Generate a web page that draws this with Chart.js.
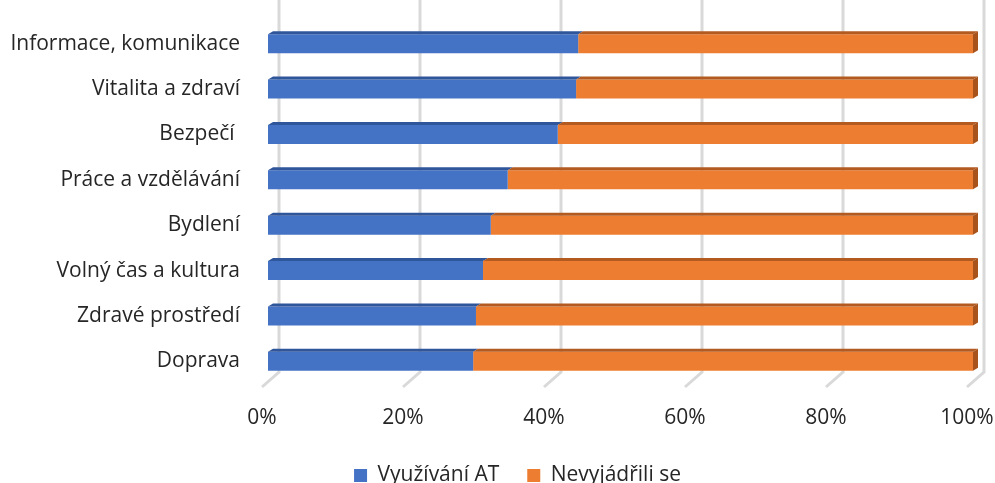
<!DOCTYPE html>
<html>
<head>
<meta charset="utf-8">
<script src="https://cdn.jsdelivr.net/npm/chart.js@4.4.0/dist/chart.umd.min.js"></script>
<style>
  html, body { margin: 0; padding: 0; background: #fff; }
  #wrap { width: 995px; height: 483px; }
</style>
</head>
<body>
<div id="wrap"><canvas id="graf" width="995" height="483"></canvas></div>
<script>
// Data
const kategorie = ['Informace, komunikace', 'Vitalita a zdraví', 'Bezpečí ', 'Práce a vzdělávání',
  'Bydlení', 'Volný čas a kultura', 'Zdravé prostředí', 'Doprava'];
const vyuzivaniAT = [44.0, 43.7, 41.1, 34.0, 31.6, 30.5, 29.5, 29.1];
const nevyjadrili = [56.0, 56.3, 58.9, 66.0, 68.4, 69.5, 70.5, 70.9];
const nazvySerii = ['Využívání AT', 'Nevyjádřili se'];

const modra = '#4472C4', oranzova = '#ED7D31';
const modraTop = '#2F559A', oranzovaTop = '#B25A1F', oranzovaBok = '#A9531C';
const pismo = '"Open Sans", "Noto Sans", sans-serif';
const barvaTextu = '#262626';

// 3D efekt: mrizka vzadu, horni plocha a bok sloupcu
const efekt3d = {
  id: 'efekt3d',
  afterLayout(chart) {
    // legenda je v originale posunuta doprava
    chart.legend.left += 31;
    chart.legend.right += 31;
  },
  beforeDatasetsDraw(chart) {
    const ctx = chart.ctx, x = chart.scales.x;
    ctx.save();
    ctx.strokeStyle = '#d9d9d9';
    ctx.lineWidth = 3;
    x.ticks.forEach(t => {
      const px = x.getPixelForValue(t.value) + 11;
      ctx.beginPath();
      ctx.moveTo(px, 0);
      ctx.lineTo(px, 372);
      ctx.lineTo(px - 17, 387);
      ctx.stroke();
    });
    ctx.restore();
  },
  afterDatasetsDraw(chart) {
    const ctx = chart.ctx, dx = 5, dy = 3;
    ctx.save();
    chart.data.datasets.forEach((ds, i) => {
      const meta = chart.getDatasetMeta(i);
      meta.data.forEach(bar => {
        const p = bar.getProps(['x', 'y', 'base', 'height'], true);
        const top = p.y - p.height / 2, bottom = p.y + p.height / 2;
        ctx.fillStyle = i === 0 ? modraTop : oranzovaTop;
        ctx.beginPath();
        ctx.moveTo(p.base, top);
        ctx.lineTo(p.base + dx, top - dy);
        ctx.lineTo(p.x + dx, top - dy);
        ctx.lineTo(p.x, top);
        ctx.closePath();
        ctx.fill();
        if (i === chart.data.datasets.length - 1) {
          ctx.fillStyle = oranzovaBok;
          ctx.beginPath();
          ctx.moveTo(p.x, top);
          ctx.lineTo(p.x + dx, top - dy);
          ctx.lineTo(p.x + dx, bottom - dy);
          ctx.lineTo(p.x, bottom);
          ctx.closePath();
          ctx.fill();
        }
      });
    });
    ctx.restore();
  }
};

new Chart(document.getElementById('graf'), {
  type: 'bar',
  data: {
    labels: kategorie,
    datasets: [
      { label: nazvySerii[0], data: vyuzivaniAT, backgroundColor: modra },
      { label: nazvySerii[1], data: nevyjadrili, backgroundColor: oranzova }
    ]
  },
  options: {
    indexAxis: 'y',
    responsive: false,
    animation: false,
    categoryPercentage: 1,
    barPercentage: 0.42,
    layout: { padding: { top: 21, right: 22, left: 0, bottom: -13 } },
    scales: {
      x: {
        stacked: true, min: 0, max: 100,
        grid: { display: false, drawTicks: false },
        border: { display: false },
        ticks: {
          stepSize: 20, padding: 21, labelOffset: -6,
          color: barvaTextu, font: { family: pismo, size: 21 },
          callback: v => v + '%'
        },
        afterFit: s => { s.height = 53; s.paddingLeft = 0; s.paddingRight = 0; }
      },
      y: {
        stacked: true,
        grid: { display: false, drawTicks: false },
        border: { display: false },
        ticks: { padding: 28, color: barvaTextu, font: { family: pismo, size: 21 } },
        afterFit: s => { s.width = 268; s.paddingTop = 0; s.paddingBottom = 0; }
      }
    },
    plugins: {
      tooltip: { enabled: false },
      legend: {
        position: 'bottom',
        labels: {
          boxWidth: 13, boxHeight: 13, padding: 28,
          color: barvaTextu, font: { family: pismo, size: 21 }
        }
      }
    }
  },
  plugins: [efekt3d]
});
</script>
</body>
</html>
